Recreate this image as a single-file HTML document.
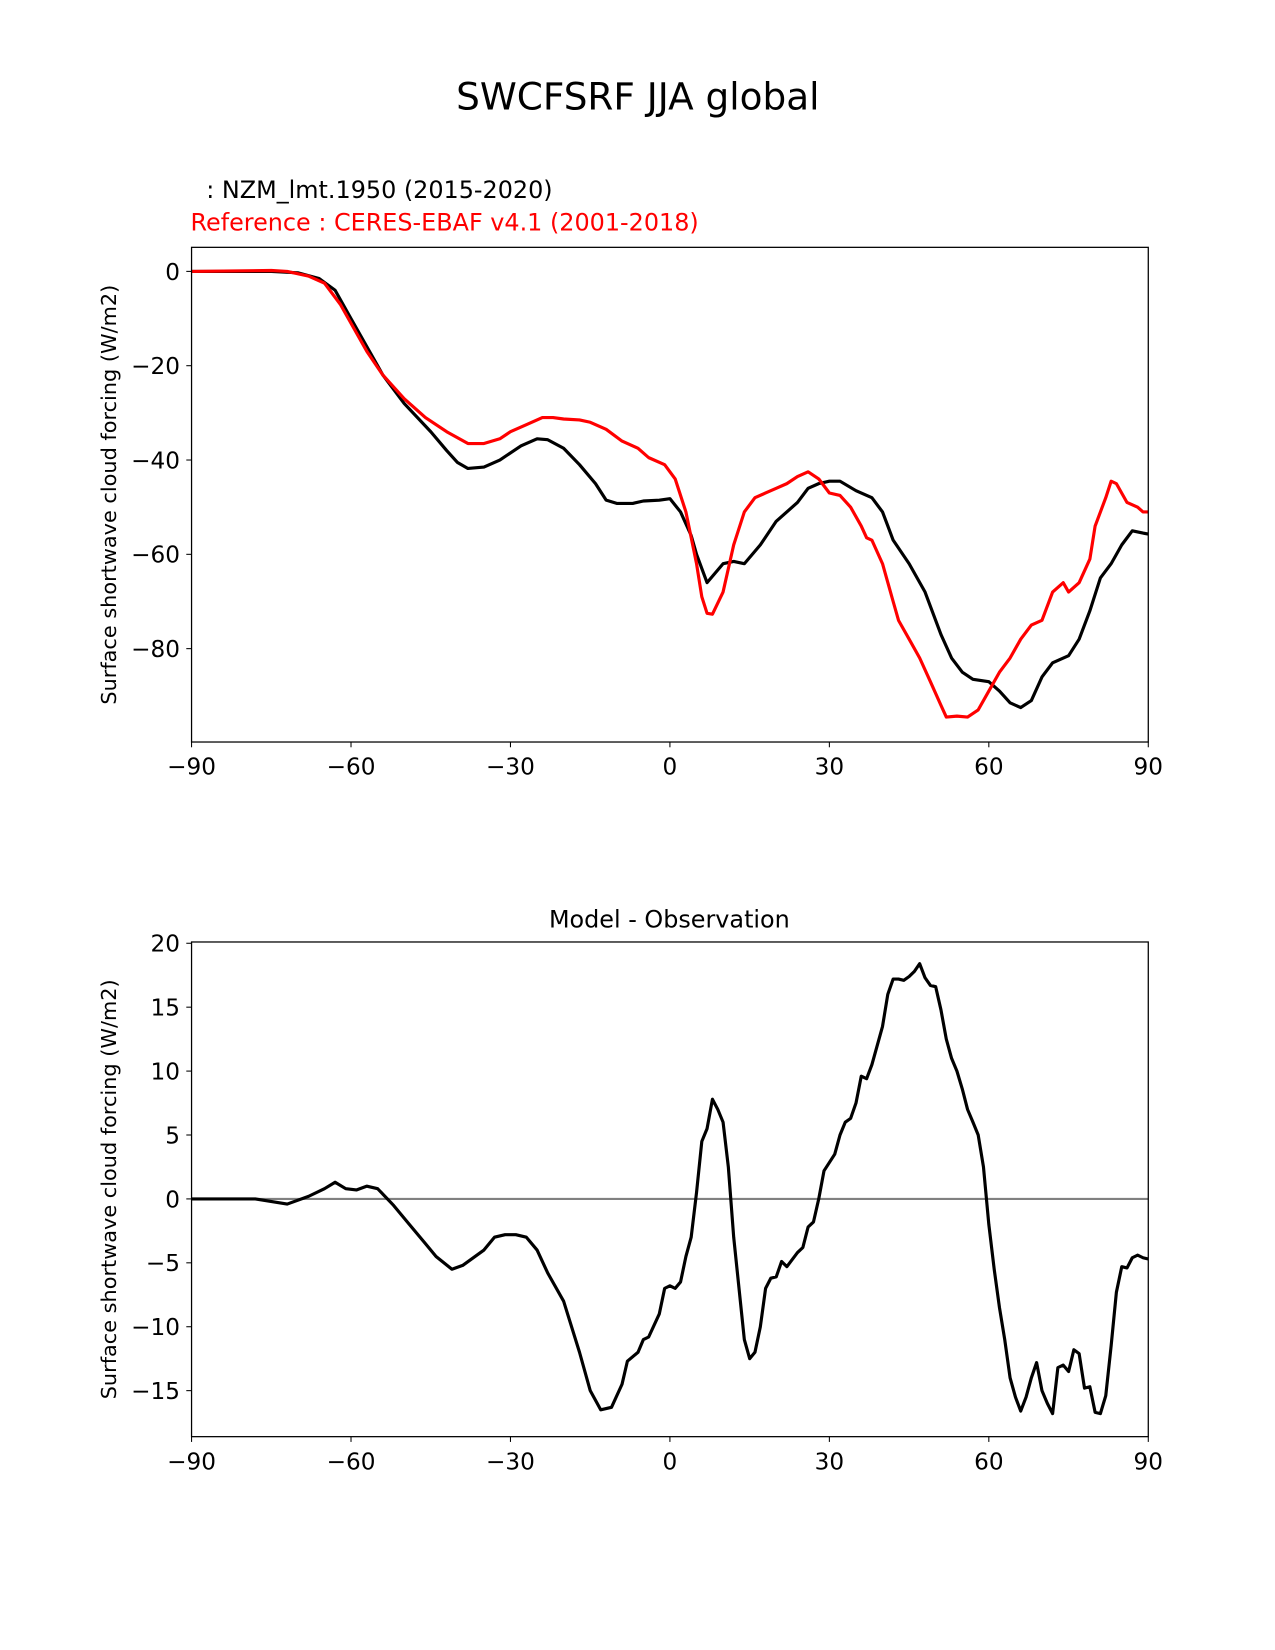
<!DOCTYPE html>
<html><head><meta charset="utf-8"><style>
body{margin:0;background:#fff}
svg{display:block;font-family:"DejaVu Sans","Liberation Sans",sans-serif}
</style></head><body>
<svg id="svg" width="1275" height="1650" xmlns="http://www.w3.org/2000/svg">
<g transform="scale(1.0525)">
<text x="606" y="104" font-size="35.5" text-anchor="middle">SWCFSRF JJA global</text>
<text x="196" y="188" font-size="22.7">: NZM_lmt.1950 (2015-2020)</text>
<text x="181" y="219" font-size="22.7" fill="#ff0000">Reference : CERES-EBAF v4.1 (2001-2018)</text>
<text x="636" y="881" font-size="22.7" text-anchor="middle">Model - Observation</text>
<g id="top"></g>
<g id="bot"></g>
</g>
</svg>
<script>
const xTicks=[-90,-60,-30,0,30,60,90];
const topYTicks=[0,-20,-40,-60,-80];
const botYTicks=[20,15,10,5,0,-5,-10,-15];
const modelLat=[-90,-75,-70,-66,-63,-60,-57,-54,-50,-45,-42,-40,-38,-35,-32,-30,-28,-25,-23,-20,-17,-14,-12,-10,-7,-5,-2,0,2,4,5,7,10,12,14,17,20,24,26,28,30,32,35,38,40,42,45,48,51,53,55,57,60,62,64,66,68,70,72,75,77,79,81,83,85,87,89,90];
const modelVal=[0,0,-0.3,-1.5,-4,-10,-16,-22,-28,-34,-38,-40.5,-41.8,-41.5,-40,-38.5,-37,-35.5,-35.7,-37.5,-41,-45,-48.5,-49.2,-49.2,-48.7,-48.5,-48.2,-51,-56,-60,-66,-62,-61.5,-62,-58,-53,-49,-46,-45,-44.5,-44.5,-46.5,-48,-51,-57,-62,-68,-77,-82,-85,-86.5,-87,-89,-91.5,-92.5,-91,-86,-83,-81.5,-78,-72,-65,-62,-58,-55,-55.5,-55.7];
const refLat=[-90,-75,-72,-68,-65,-62,-60,-57,-54,-50,-46,-42,-38,-35,-32,-30,-27,-24,-22,-20,-17,-15,-12,-9,-6,-4,-1,1,3,5,6,7,8,10,12,14,16,18,20,22,24,26,28,30,32,34,36,37,38,40,42,43,45,47,49,51,52,54,56,58,60,62,64,66,68,70,72,74,75,77,79,80,82,83,84,86,88,89,90];
const refVal=[0,0.2,0,-1,-2.5,-7,-11,-17,-22,-27,-31,-34,-36.5,-36.5,-35.5,-34,-32.5,-31,-31,-31.3,-31.5,-32,-33.5,-36,-37.5,-39.5,-41,-44,-51,-62,-69,-72.5,-72.7,-68,-58,-51,-48,-47,-46,-45,-43.5,-42.5,-44,-47,-47.5,-50,-54,-56.5,-57,-62,-70,-74,-78,-82,-87,-92,-94.5,-94.3,-94.5,-93,-89,-85,-82,-78,-75,-74,-68,-66,-68,-66,-61,-54,-48,-44.5,-45,-49,-50,-51,-51];
const diffLat=[-90,-78,-72,-68,-65,-63,-61,-59,-57,-55,-52,-49,-46,-44,-41,-39,-35,-33,-31,-29,-27,-25,-23,-20,-17,-15,-13,-11,-9,-8,-6,-5,-4,-2,-1,0,1,2,3,4,5,6,7,8,9,10,11,12,14,15,16,17,18,19,20,21,22,24,25,26,27,28,29,31,32,33,34,35,36,37,38,40,41,42,43,44,45,46,47,48,49,50,51,52,53,54,55,56,57,58,59,60,61,62,63,64,65,66,67,68,69,70,71,72,73,74,75,76,77,78,79,80,81,82,83,84,85,86,87,88,89,90];
const diffVal=[0,0,-0.4,0.2,0.8,1.3,0.8,0.7,1,0.8,-0.5,-2,-3.5,-4.5,-5.5,-5.2,-4,-3,-2.8,-2.8,-3,-4,-5.8,-8,-12,-15,-16.5,-16.3,-14.5,-12.7,-12,-11,-10.8,-9,-7,-6.8,-7,-6.5,-4.5,-3,0.5,4.5,5.5,7.8,7,6,2.5,-3,-11,-12.5,-12,-10,-7,-6.2,-6.1,-4.9,-5.3,-4.2,-3.8,-2.2,-1.8,0,2.2,3.5,5,6,6.3,7.5,9.6,9.4,10.5,13.5,16,17.2,17.2,17.1,17.4,17.8,18.4,17.3,16.7,16.6,14.8,12.5,11,10,8.6,7,6,5,2.5,-2,-5.5,-8.5,-11,-14,-15.5,-16.6,-15.5,-14,-12.8,-15,-16,-16.8,-13.2,-13,-13.5,-11.8,-12.1,-14.8,-14.7,-16.7,-16.8,-15.4,-11.5,-7.3,-5.3,-5.4,-4.6,-4.4,-4.6,-4.7];

const NS="http://www.w3.org/2000/svg";
function mk(p,t,a){const e=document.createElementNS(NS,t);for(const k in a)e.setAttribute(k,a[k]);p.appendChild(e);return e;}
function panel(g,top,bot,ymin,ymax,yt){
  const L=182,R=1091;
  const sx=v=>L+(v+90)/180*(R-L);
  const sy=v=>bot-(v-ymin)/(ymax-ymin)*(bot-top);
  for(const t of xTicks){
    const l=mk(g,'line',{x1:sx(t),x2:sx(t),y1:bot,y2:bot+5,stroke:'#000','stroke-width':1});
    
    
    const tx=mk(g,'text',{x:sx(t),y:bot+31,'font-size':22,'text-anchor':'middle'});
    tx.textContent=(t<0?'\u2212'+(-t):t);
    
    
  }
  for(const t of yt){
    const l=mk(g,'line',{x1:L-5,x2:L,y1:sy(t),y2:sy(t),stroke:'#000','stroke-width':1});
    
    
    const tx=mk(g,'text',{x:L-11,y:sy(t)+8,'font-size':22,'text-anchor':'end'});
    tx.textContent=(t<0?'\u2212'+(-t):t);
    
    
  }
  const yl=mk(g,'text',{x:0,y:0,'font-size':19.8,'text-anchor':'middle',transform:`translate(110,${(top+bot)/2}) rotate(-90)`});
  yl.textContent='Surface shortwave cloud forcing (W/m2)';
  
  
  return {sx,sy,L,R,top,bot};
}
function line(g,ax,xs,ys,col,w,name){
  const d=xs.map((x,i)=>(i?'L':'M')+ax.sx(x).toFixed(1)+','+ax.sy(ys[i]).toFixed(1)).join('');
  const p=mk(g,'path',{d,fill:'none',stroke:col,'stroke-width':w,'stroke-linejoin':'round'});
  
  
}
function frame(g,ax){
  const r=mk(g,'rect',{x:ax.L,y:ax.top,width:ax.R-ax.L,height:ax.bot-ax.top,fill:'none',stroke:'#000','stroke-width':1.2});
  
  
}
const gt=document.getElementById('top'),gb=document.getElementById('bot');
const a1=panel(gt,235,705,-99.8,5.1,topYTicks);
line(gt,a1,modelLat,modelVal,'#000',3,'model-line');
line(gt,a1,refLat,refVal,'#ff0000',3,'reference-line');
frame(gt,a1);
const a2=panel(gb,895,1365,-18.6,20.1,botYTicks);
const z=mk(gb,'line',{x1:a2.L,x2:a2.R,y1:a2.sy(0),y2:a2.sy(0),stroke:'#808080','stroke-width':2});


line(gb,a2,diffLat,diffVal,'#000',3,'difference-line');
frame(gb,a2);
</script>
</body></html>
